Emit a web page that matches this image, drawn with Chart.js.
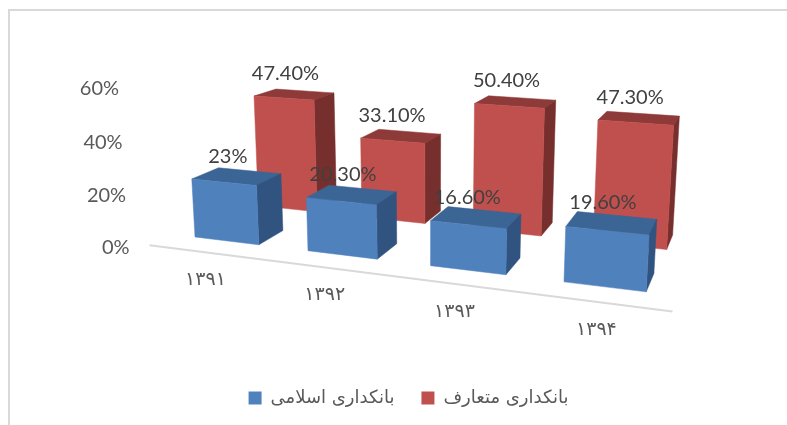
<!DOCTYPE html>
<html>
<head>
<meta charset="utf-8">
<style>
  html, body { margin: 0; background: #fff; }
  #wrap { position: relative; width: 787px; height: 425px; overflow: hidden; }
  #frame { position: absolute; left: 8px; top: 9px; right: 0; bottom: -4px; border-left: 2px solid #d9d9d9; border-top: 2px solid #d9d9d9; }
  canvas { position: absolute; left: 0; top: 0; }
</style>
</head>
<body>
<div id="wrap">
  <div id="frame"></div>
  <canvas id="myChart" width="787" height="425"></canvas>
</div>
<script src="https://cdn.jsdelivr.net/npm/chart.js@4"></script>
<script>
var years = ["۱۳۹۱", "۱۳۹۲", "۱۳۹۳", "۱۳۹۴"];
var islamicValues = [23, 20.3, 16.6, 19.6];
var conventionalValues = [47.4, 33.1, 50.4, 47.3];
var islamicName = "بانکداری اسلامی";
var conventionalName = "بانکداری متعارف";

/*----------------------------colours------------------------------------*/
var blueFaces = { front: "#4f81bd", top: "#3b6595", side: "#305380" };
var redFaces = { front: "#c0504d", top: "#8e3a38", side: "#772f2d" };

/*----------------------------camera------------------------------------*/
// vanishing points of the three world directions
var cam = {
  ox: 195, oy: 237,
  a: -0.03906, vxX: -2585, vxY: -101,
  b: -0.000584, vyX: 430, vyY: 4500,
  vzX: 800, vzY: -75
};
var barShare = 0.575;       // bar width inside one category
var seriesDepth = [0, 0.113];
var seriesShift = [0, 0.02];
var labelRise = [20, 21];
var barDepth = 0.0454;
var floorDepth = -0.035;

function project(u, v, z) {
  var w = 1 + cam.a * u + cam.b * v + z;
  return {
    x: (cam.ox + cam.a * cam.vxX * u + cam.b * cam.vyX * v + cam.vzX * z) / w,
    y: (cam.oy + cam.a * cam.vxY * u + cam.b * cam.vyY * v + cam.vzY * z) / w
  };
}

function face(ctx, pts, color) {
  ctx.beginPath();
  ctx.moveTo(pts[0].x, pts[0].y);
  for (var i = 1; i < pts.length; i++) ctx.lineTo(pts[i].x, pts[i].y);
  ctx.closePath();
  ctx.fillStyle = color;
  ctx.fill();
  ctx.strokeStyle = color;
  ctx.lineWidth = 0.5;
  ctx.stroke();
}

function pctText(v) {
  return (v % 1 === 0 ? v : v.toFixed(2)) + "%";
}

// category pixel -> world unit, one category is one unit
function toU(chart, px) {
  var xs = chart.scales.x;
  return (px - xs.left) / (xs.width / years.length) - (1 - barShare) / 2;
}

var bars3d = {
  id: "bars3d",
  beforeDatasetsDraw: function (chart) {
    var ctx = chart.ctx;
    var ys = chart.scales.y;
    var maxU = years.length - (1 - barShare) / 2;
    var minU = -(1 - barShare) / 2;

    // floor line
    var a = project(minU, 0, floorDepth), b = project(maxU, 0, floorDepth);
    ctx.save();
    ctx.strokeStyle = "#d9d9d9";
    ctx.lineWidth = 2;
    ctx.beginPath();
    ctx.moveTo(a.x, a.y);
    ctx.lineTo(b.x, b.y);
    ctx.stroke();

    // value ticks
    ctx.font = '20px Lato';
    ctx.fillStyle = "#595959";
    ctx.textAlign = "right";
    ctx.textBaseline = "middle";
    ys.ticks.forEach(function (t) {
      var p = project(minU, t.value, floorDepth);
      ctx.fillText(t.value + "%", p.x - 20, p.y + 2);
    });

    // category ticks
    ctx.font = '19px "DejaVu Sans"';
    ctx.textAlign = "center";
    ctx.letterSpacing = "3px";
    years.forEach(function (y, i) {
      var el = chart.getDatasetMeta(0).data[i];
      var p = project(toU(chart, el.x), 0, floorDepth);
      ctx.fillText(y, p.x, p.y + 28);
    });
    ctx.letterSpacing = "0px";

    // bars, the far series first
    for (var d = chart.data.datasets.length - 1; d >= 0; d--) {
      var faces = d === 0 ? blueFaces : redFaces;
      chart.getDatasetMeta(d).data.forEach(function (el) {
        var u0 = toU(chart, el.x - el.width / 2) + seriesShift[d];
        var u1 = toU(chart, el.x + el.width / 2) + seriesShift[d];
        var v = ys.getValueForPixel(el.y);
        var v0 = ys.getValueForPixel(el.base);
        var z0 = seriesDepth[d], z1 = z0 + barDepth;
        face(ctx, [project(u0, v, z0), project(u1, v, z0), project(u1, v, z1), project(u0, v, z1)], faces.top);
        face(ctx, [project(u1, v, z0), project(u1, v, z1), project(u1, v0, z1), project(u1, v0, z0)], faces.side);
        face(ctx, [project(u0, v, z0), project(u1, v, z0), project(u1, v0, z0), project(u0, v0, z0)], faces.front);
      });
    }

    // data labels stay above every bar
    ctx.font = '20px Lato';
    ctx.fillStyle = "#404040";
    ctx.textAlign = "center";
    chart.data.datasets.forEach(function (ds, d) {
      chart.getDatasetMeta(d).data.forEach(function (el, i) {
        var v = ys.getValueForPixel(el.y);
        var p = project(toU(chart, el.x) + seriesShift[d], v, seriesDepth[d] + barDepth / 2);
        ctx.fillText(pctText(ds.data[i]), p.x - 9, p.y - labelRise[d]);
      });
    });
    ctx.restore();
    return false;
  }
};

new Chart("myChart", {
  type: "bar",
  data: {
    labels: years,
    datasets: [
      { label: islamicName, data: islamicValues, backgroundColor: blueFaces.front, grouped: false, categoryPercentage: 1, barPercentage: barShare },
      { label: conventionalName, data: conventionalValues, backgroundColor: redFaces.front, grouped: false, categoryPercentage: 1, barPercentage: barShare }
    ]
  },
  plugins: [bars3d],
  options: {
    responsive: false,
    animation: false,
    layout: { padding: { left: 30, bottom: 8 } },
    scales: {
      x: { ticks: { display: false }, grid: { display: false }, border: { display: false } },
      y: { min: 0, max: 60, ticks: { display: false, stepSize: 20 }, grid: { display: false }, border: { display: false } }
    },
    plugins: {
      tooltip: { enabled: false },
      legend: {
        position: "bottom",
        labels: {
          boxWidth: 13,
          boxHeight: 13,
          padding: 27,
          color: "#595959",
          font: { family: '"DejaVu Sans"', size: 18 }
        }
      }
    }
  }
});
</script>
</body>
</html>
